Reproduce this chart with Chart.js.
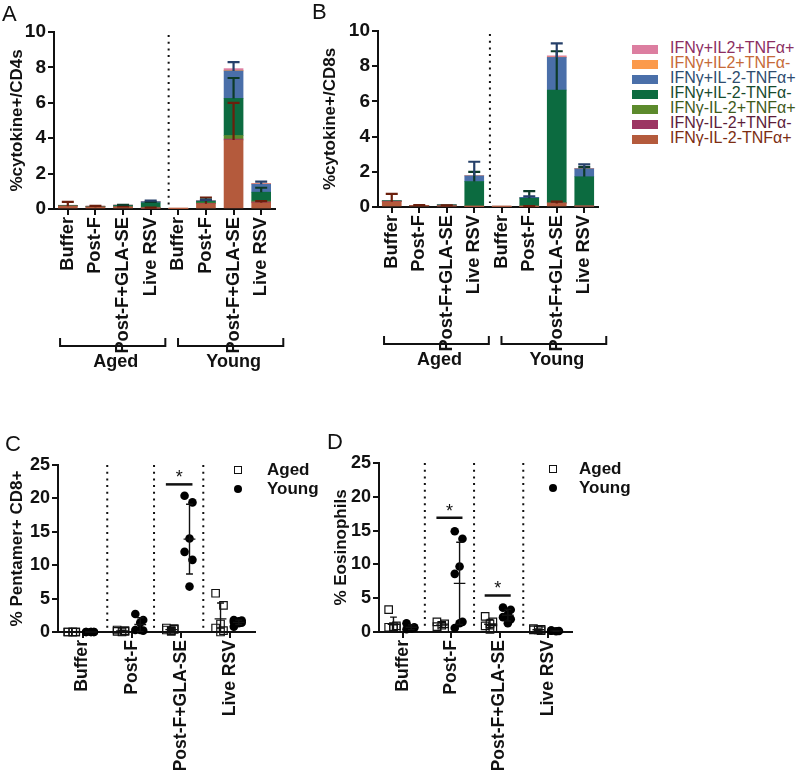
<!DOCTYPE html>
<html>
<head>
<meta charset="utf-8">
<script src="https://cdn.jsdelivr.net/npm/chart.js@4.4.1/dist/chart.umd.min.js"></script>
<style>
    body { margin: 0; width: 798px; height: 770px; position: relative; overflow: hidden; background: #fff;
           font-family: "Liberation Sans", Arial, sans-serif; color: #111; }
    canvas { position: absolute; }
    .letter { position: absolute; font-size: 22px; line-height: 1; }
    .lg { position: absolute; left: 632px; font-size: 16px; line-height: 16px; white-space: nowrap; }
    .lg i { display: inline-block; width: 26px; height: 9px; margin-right: 12px; vertical-align: -1px; }
    .gl { position: absolute; font-size: 17px; font-weight: bold; line-height: 18px; }
    .mk { position: absolute; box-sizing: border-box; width: 8px; height: 8px; }
</style>
</head>
<body>
<canvas id="cA" width="300" height="380" style="left:0;top:0"></canvas>
<canvas id="cB" width="300" height="380" style="left:320px;top:0"></canvas>
<canvas id="cC" width="270" height="390" style="left:0;top:380px"></canvas>
<canvas id="cD" width="270" height="390" style="left:320px;top:380px"></canvas>

<div class="letter" style="left:2px;top:3px">A</div>
<div class="letter" style="left:312px;top:1px">B</div>
<div class="letter" style="left:5px;top:433px">C</div>
<div class="letter" style="left:327px;top:431px">D</div>

<div id="legendAB"></div>

<div class="mk" style="left:234px;top:466px;border:1.3px solid #111"></div>
<div class="gl" style="left:267px;top:461px">Aged</div>
<div class="mk" style="left:234px;top:485px;border-radius:50%;background:#000"></div>
<div class="gl" style="left:267px;top:480px">Young</div>

<div class="mk" style="left:549px;top:465px;border:1.3px solid #111"></div>
<div class="gl" style="left:579px;top:460px">Aged</div>
<div class="mk" style="left:549px;top:484px;border-radius:50%;background:#000"></div>
<div class="gl" style="left:579px;top:479px">Young</div>

<script>
// ──────────────────────────────────────────────
//  Data
// ──────────────────────────────────────────────
const CATS_AB = ['Buffer', 'Post-F', 'Post-F+GLA-SE', 'Live RSV', 'Buffer', 'Post-F', 'Post-F+GLA-SE', 'Live RSV'];
const CATS_CD = ['Buffer', 'Post-F', 'Post-F+GLA-SE', 'Live RSV'];

// cytokine subsets, stacking order bottom -> top
const SUBSETS = ['IFNγ-IL-2-TNFα+', 'IFNγ-IL-2+TNFα-', 'IFNγ-IL-2+TNFα+', 'IFNγ+IL-2-TNFα-',
                 'IFNγ+IL-2-TNFα+', 'IFNγ+IL2+TNFα-', 'IFNγ+IL2+TNFα+'];
const SUBSET_COLORS = ['#b45a3c', '#9c3562', '#5c8a2c', '#0c6b40', '#4a6fa9', '#fb9a4c', '#dc7ea0'];
const SUBSET_TEXT   = ['#7c2d12', '#5c1d3a', '#3f5a1c', '#174a2d', '#2e4c6e', '#c66a38', '#8c2e62'];
const ERR_COLORS    = ['#6b1f0c', '#5c1d3a', '#3f5a1c', '#0d3b28', '#26406a', '#c66a38', '#8c2e62'];

// Panel A: % cytokine+ of CD4 T cells
const cd4Brown  = [0.15, 0.10, 0.10, 0.05, 0.02, 0.30, 3.90, 0.35];
const cd4Maroon = [0.02, 0.02, 0.02, 0.02, 0.00, 0.02, 0.05, 0.05];
const cd4Olive  = [0.01, 0.01, 0.03, 0.03, 0.00, 0.03, 0.20, 0.05];
const cd4Green  = [0.02, 0.02, 0.05, 0.25, 0.00, 0.08, 2.10, 0.50];
const cd4Blue   = [0.01, 0.01, 0.02, 0.07, 0.00, 0.04, 1.55, 0.45];
const cd4Orange = [0.00, 0.00, 0.00, 0.00, 0.00, 0.00, 0.03, 0.02];
const cd4Pink   = [0.00, 0.00, 0.00, 0.01, 0.00, 0.01, 0.10, 0.03];
const cd4BrownErr = [0.25, 0.08, 0.05, 0.03, 0.00, 0.35, 2.10, 0.10];
const cd4GreenErr = [0.00, 0.00, 0.03, 0.05, 0.00, 0.10, 1.15, 0.25];
const cd4BlueErr  = [0.00, 0.00, 0.00, 0.05, 0.00, 0.05, 0.50, 0.15];

// Panel B: % cytokine+ of CD8 T cells
const cd8Brown  = [0.30, 0.08, 0.06, 0.03, 0.03, 0.03, 0.20, 0.05];
const cd8Maroon = [0.02, 0.00, 0.01, 0.01, 0.00, 0.01, 0.03, 0.01];
const cd8Olive  = [0.01, 0.00, 0.01, 0.01, 0.00, 0.01, 0.02, 0.01];
const cd8Green  = [0.02, 0.01, 0.04, 1.40, 0.01, 0.45, 6.40, 1.65];
const cd8Blue   = [0.01, 0.00, 0.01, 0.32, 0.00, 0.05, 1.85, 0.45];
const cd8Orange = [0.00, 0.00, 0.00, 0.00, 0.00, 0.00, 0.02, 0.00];
const cd8Pink   = [0.00, 0.00, 0.00, 0.01, 0.00, 0.00, 0.07, 0.02];
const cd8BrownErr = [0.45, 0.03, 0.03, 0.00, 0.00, 0.02, 0.10, 0.00];
const cd8GreenErr = [0.00, 0.00, 0.00, 0.55, 0.00, 0.40, 2.20, 0.55];
const cd8BlueErr  = [0.00, 0.00, 0.00, 0.80, 0.00, 0.05, 0.80, 0.25];

// Panel C: % Pentamer+ CD8+, one list per vaccine group
const pentamerAged  = [[0, 0, 0, 0, 0, 0], [0.1, 0.2, 0, 0.3, 0.1], [0.3, 0.5, 0.2, 0.6, 0.4, 0.1], [5.8, 4.0, 1.2, 0.6, 0.2, 0.0]];
const pentamerYoung = [[0, 0, 0, 0, 0, 0], [2.7, 1.8, 1.4, 0.3, 0.2, 0.3], [20.4, 19.4, 14.0, 12.0, 10.8, 6.8], [1.8, 1.7, 1.6, 1.5, 1.4, 1.3, 0.8]];
const pentamerSig   = [2];          // categories with a significance bar
const pentamerSigY  = [22.1];

// Panel D: % Eosinophils
const eosAged  = [[3.3, 0.9, 0.8, 0.7, 0.6, 0.5], [1.5, 1.2, 1.0, 0.8, 0.6], [2.3, 1.5, 1.2, 0.9, 0.6, 0.4], [0.5, 0.4, 0.3, 0.3, 0.2]];
const eosYoung = [[1.3, 0.7, 0.5, 0.4, 0.6], [14.9, 13.8, 9.7, 8.6, 1.5, 1.3, 0.6], [3.6, 3.3, 2.6, 2.2, 1.9, 1.3], [0.2, 0.15, 0.1, 0.2]];
const eosSig   = [1, 2];
const eosSigY  = [16.9, 5.4];

// ──────────────────────────────────────────────
//  Shared styling
// ──────────────────────────────────────────────
const FONT = '"Liberation Sans", Arial, sans-serif';
const INK = '#111';
const SPREAD = [-0.1, 0.06, 0];         // horizontal scatter spread, category units
const OFF_AGED = -0.2, OFF_YOUNG = 0.17;

function axisTitle(text, pad) {
    return { display: true, text, color: INK, padding: { top: pad, bottom: 0 },
             font: { family: FONT, size: 17, weight: 'bold' } };
}

function catAxis(labels, height, size, extra) {
    return Object.assign({
        ticks: { color: INK, autoSkip: false, minRotation: 90, maxRotation: 90, padding: 2,
                 font: { family: FONT, size: size, weight: 'bold' } },
        grid: { drawOnChartArea: false, drawTicks: true, tickLength: 6, offset: false, color: INK, lineWidth: 2 },
        border: { color: INK, width: 2 },
        afterFit: s => { s.height = height; }
    }, extra);
}

function valAxis(max, step, width, title, pad, size) {
    return {
        min: 0, max: max,
        ticks: { stepSize: step, color: INK, padding: 2, font: { family: FONT, size: size, weight: 'bold' } },
        grid: { drawOnChartArea: false, drawTicks: true, tickLength: 6, color: INK, lineWidth: 2 },
        border: { color: INK, width: 2 },
        title: axisTitle(title, pad),
        afterFit: s => { s.width = width; }
    };
}

function dotted(ctx, x, y0, y1) {
    ctx.save();
    ctx.strokeStyle = INK;
    ctx.lineWidth = 2;
    ctx.setLineDash([2, 4.7]);
    ctx.beginPath();
    ctx.moveTo(x, y0);
    ctx.lineTo(x, y1);
    ctx.stroke();
    ctx.restore();
}

// ──────────────────────────────────────────────
//  Stacked bar panels (A, B)
// ──────────────────────────────────────────────
function barOverlay(errs, divider) {
    return {
        id: 'barOverlay',
        afterDatasetsDraw(chart) {
            const ctx = chart.ctx, xs = chart.scales.x, ys = chart.scales.y, area = chart.chartArea;
            ctx.save();
            // error bars drawn upward from each segment top
            errs.forEach((err, d) => {
                if (!err) return;
                err.forEach((e, i) => {
                    if (!e) return;
                    let top = 0;
                    for (let k = 0; k <= d; k++) top += chart.data.datasets[k].data[i];
                    const x = xs.getPixelForValue(i);
                    const y0 = ys.getPixelForValue(top);
                    const y1 = ys.getPixelForValue(top + e);
                    ctx.strokeStyle = ERR_COLORS[d];
                    ctx.lineWidth = 2.2;
                    ctx.beginPath();
                    ctx.moveTo(x, y0); ctx.lineTo(x, y1);
                    ctx.moveTo(x - 6, y1); ctx.lineTo(x + 6, y1);
                    ctx.stroke();
                });
            });
            dotted(ctx, xs.getPixelForValue(divider), area.top + 3, area.bottom - 4);

            // group brackets under the category labels
            const yb = area.bottom + 137;
            [[-0.28, 3.53, 'Aged'], [3.99, 7.8, 'Young']].forEach(([a, b, label]) => {
                const x1 = xs.getPixelForValue(a), x2 = xs.getPixelForValue(b);
                ctx.strokeStyle = INK;
                ctx.lineWidth = 2;
                ctx.beginPath();
                ctx.moveTo(x1, yb - 8); ctx.lineTo(x1, yb); ctx.lineTo(x2, yb); ctx.lineTo(x2, yb - 8);
                ctx.stroke();
                ctx.fillStyle = INK;
                ctx.font = `bold 18px ${FONT}`;
                ctx.textAlign = 'center';
                ctx.textBaseline = 'middle';
                ctx.fillText(label, (x1 + x2) / 2 + 3, yb + 16);
            });
            ctx.restore();
        }
    };
}

function renderStacked(id, series, errs, opts) {
    new Chart(document.getElementById(id), {
        type: 'bar',
        data: {
            labels: CATS_AB,
            datasets: series.map((data, d) => ({
                label: SUBSETS[d], data,
                backgroundColor: SUBSET_COLORS[d], borderWidth: 0, barThickness: 19
            }))
        },
        options: {
            responsive: false, animation: false,
            layout: { padding: { top: opts.top, right: opts.right, left: 0, bottom: 0 } },
            plugins: { legend: { display: false }, tooltip: { enabled: false } },
            scales: {
                x: catAxis(CATS_AB, opts.xHeight, 18.3, { stacked: true }),
                y: Object.assign(valAxis(10, 2, opts.yWidth, opts.title, opts.pad, 19), { stacked: true })
            }
        },
        plugins: [barOverlay(errs, opts.divider)]
    });
}

renderStacked('cA',
    [cd4Brown, cd4Maroon, cd4Olive, cd4Green, cd4Blue, cd4Orange, cd4Pink],
    [cd4BrownErr, null, null, cd4GreenErr, cd4BlueErr, null, null],
    { top: 32, right: 25, yWidth: 54, xHeight: 171, title: '%cytokine+/CD4s', pad: 7, divider: 3.65 });

renderStacked('cB',
    [cd8Brown, cd8Maroon, cd8Olive, cd8Green, cd8Blue, cd8Orange, cd8Pink],
    [cd8BrownErr, null, null, cd8GreenErr, cd8BlueErr, null, null],
    { top: 31, right: 22, yWidth: 58, xHeight: 173, title: '%cytokine+/CD8s', pad: 0, divider: 3.57 });

// colour legend shared by A and B (top row = last stacked subset)
const legendBox = document.getElementById('legendAB');
SUBSETS.slice().reverse().forEach((name, r) => {
    const d = SUBSETS.length - 1 - r;
    const row = document.createElement('div');
    row.className = 'lg';
    row.style.top = (39.5 + r * 15.1) + 'px';
    row.style.color = SUBSET_TEXT[d];
    row.innerHTML = `<i style="background:${SUBSET_COLORS[d]}"></i>${name}`;
    legendBox.appendChild(row);
});

// ──────────────────────────────────────────────
//  Scatter panels (C, D)
// ──────────────────────────────────────────────
function spreadPoints(groups, off) {
    const pts = [];
    groups.forEach((vals, i) => vals.forEach((v, k) => pts.push({ x: i + off + SPREAD[k % SPREAD.length], y: v })));
    return pts;
}

function meanSd(vals) {
    const n = vals.length;
    const m = vals.reduce((a, b) => a + b, 0) / n;
    const sd = n > 1 ? Math.sqrt(vals.reduce((a, b) => a + (b - m) * (b - m), 0) / (n - 1)) : 0;
    return [m, sd];
}

function scatterOverlay(aged, young, dividers, sigCats, sigY) {
    return {
        id: 'scatterOverlay',
        afterDatasetsDraw(chart) {
            const ctx = chart.ctx, xs = chart.scales.x, ys = chart.scales.y, area = chart.chartArea;
            ctx.save();
            dividers.forEach(v => dotted(ctx, xs.getPixelForValue(v), area.top, area.bottom - 4));

            ctx.strokeStyle = INK;
            ctx.lineWidth = 1.4;
            [[aged, OFF_AGED], [young, OFF_YOUNG]].forEach(([groups, off]) => {
                groups.forEach((vals, i) => {
                    const [m, sd] = meanSd(vals);
                    const c = i + off;
                    const px = xs.getPixelForValue(c);
                    const ym = ys.getPixelForValue(m);
                    const yt = ys.getPixelForValue(m + sd);
                    const yb = ys.getPixelForValue(Math.max(m - sd, 0));
                    const half = xs.getPixelForValue(c + 0.12) - px;
                    const cap = xs.getPixelForValue(c + 0.07) - px;
                    ctx.beginPath();
                    ctx.moveTo(px - half, ym); ctx.lineTo(px + half, ym);
                    ctx.moveTo(px, yt); ctx.lineTo(px, yb);
                    ctx.moveTo(px - cap, yt); ctx.lineTo(px + cap, yt);
                    if (m - sd > 0) { ctx.moveTo(px - cap, yb); ctx.lineTo(px + cap, yb); }
                    ctx.stroke();
                });
            });

            // significance bars
            sigCats.forEach((c, k) => {
                const y = ys.getPixelForValue(sigY[k]);
                const x1 = xs.getPixelForValue(c - 0.31), x2 = xs.getPixelForValue(c + 0.23);
                ctx.lineWidth = 2.5;
                ctx.beginPath();
                ctx.moveTo(x1, y); ctx.lineTo(x2, y);
                ctx.stroke();
                ctx.fillStyle = INK;
                ctx.font = `18px ${FONT}`;
                ctx.textAlign = 'center';
                ctx.textBaseline = 'alphabetic';
                ctx.fillText('*', (x1 + x2) / 2, y - 1);
            });
            ctx.restore();
        }
    };
}

function renderScatter(id, aged, young, opts) {
    new Chart(document.getElementById(id), {
        type: 'scatter',
        data: {
            datasets: [
                { label: 'Aged', data: spreadPoints(aged, OFF_AGED), pointStyle: 'rect', pointRadius: 5.3,
                  borderColor: INK, borderWidth: 1.2, backgroundColor: 'rgba(0,0,0,0)', clip: false },
                { label: 'Young', data: spreadPoints(young, OFF_YOUNG), pointStyle: 'circle', pointRadius: 4.3,
                  borderWidth: 0, backgroundColor: '#000', clip: false }
            ]
        },
        options: {
            responsive: false, animation: false,
            layout: { padding: { top: opts.top, right: opts.right, left: 0, bottom: 0 } },
            plugins: { legend: { display: false }, tooltip: { enabled: false } },
            scales: {
                x: catAxis(CATS_CD, 138, 17.6, {
                    type: 'linear', min: -0.5, max: 3.5,
                    afterBuildTicks: s => { s.ticks = CATS_CD.map((_, i) => ({ value: i })); }
                }),
                y: valAxis(25, 5, opts.yWidth, opts.title, opts.pad, 18)
            }
        },
        plugins: [scatterOverlay(aged, young, opts.dividers, opts.sigCats, opts.sigY)]
    });
}

// tick label lookup for the numeric category axis
Chart.defaults.scales.linear.ticks.callback = function (v) {
    if (this.axis === 'x') return CATS_CD[v] !== undefined ? CATS_CD[v] : '';
    return Chart.Ticks.formatters.numeric.apply(this, arguments);
};

renderScatter('cC', pentamerAged, pentamerYoung,
    { top: 85, right: 15, yWidth: 58, title: '% Pentamer+ CD8+', pad: 7,
      dividers: [0.5, 1.45, 2.45], sigCats: pentamerSig, sigY: pentamerSigY });

renderScatter('cD', eosAged, eosYoung,
    { top: 83, right: 18, yWidth: 59, title: '% Eosinophils', pad: 11,
      dividers: [0.45, 1.47, 2.49], sigCats: eosSig, sigY: eosSigY });
</script>
</body>
</html>
